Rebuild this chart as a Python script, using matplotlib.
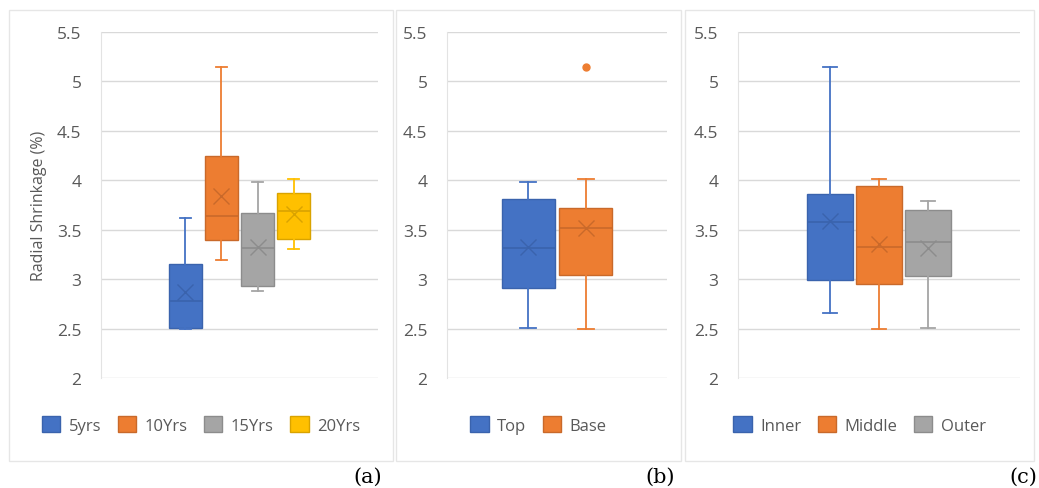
import matplotlib.pyplot as plt
from matplotlib.patches import Rectangle

plt.rcParams['font.family'] = ['Open Sans', 'DejaVu Sans']

# ---- data ----
# panel (a): age groups
age_labels = ['5yrs', '10Yrs', '15Yrs', '20Yrs']
age_whislo = [2.50, 3.19, 2.88, 3.30]
age_q1 = [2.51, 3.40, 2.93, 3.41]
age_med = [2.78, 3.64, 3.31, 3.69]
age_q3 = [3.15, 4.25, 3.67, 3.87]
age_whishi = [3.62, 5.15, 3.98, 4.01]
age_mean = [2.87, 3.84, 3.33, 3.66]
age_fliers = [[], [], [], []]

# panel (b): height position
height_labels = ['Top', 'Base']
height_whislo = [2.51, 2.50]
height_q1 = [2.91, 3.04]
height_med = [3.31, 3.52]
height_q3 = [3.81, 3.72]
height_whishi = [3.98, 4.01]
height_mean = [3.33, 3.52]
height_fliers = [[], [5.15]]

# panel (c): radial position
radial_labels = ['Inner', 'Middle', 'Outer']
radial_whislo = [2.66, 2.50, 2.51]
radial_q1 = [2.99, 2.95, 3.03]
radial_med = [3.58, 3.33, 3.38]
radial_q3 = [3.86, 3.94, 3.70]
radial_whishi = [5.15, 4.01, 3.79]
radial_mean = [3.59, 3.36, 3.32]
radial_fliers = [[], [], []]

colors = ['#4472C4', '#ED7D31', '#A5A5A5', '#FFC000']
dark = ['#3A63AD', '#C9692A', '#8C8C8C', '#D9A300']
grid_c = '#D9D9D9'
text_c = '#595959'

W, H = 1039, 489
fig = plt.figure(figsize=(W / 100, H / 100), dpi=100)

# chart-area frames (pixel extents of each panel)
frames = [(9, 393), (396, 681), (685, 1034)]
for x0, x1 in frames:
    fig.add_artist(Rectangle((x0 / W, 1 - 462 / H), (x1 - x0) / W, (462 - 11) / H,
                             transform=fig.transFigure, fill=False, edgecolor='#E6E6E6', lw=1))

panels = [
    ([101, 378], age_labels, age_whislo, age_q1, age_med, age_q3, age_whishi, age_mean, age_fliers, '(a)', 368),
    ([447, 667], height_labels, height_whislo, height_q1, height_med, height_q3, height_whishi, height_mean, height_fliers, '(b)', 660),
    ([738, 1020], radial_labels, radial_whislo, radial_q1, radial_med, radial_q3, radial_whishi, radial_mean, radial_fliers, '(c)', 1023),
]

for i, (xr, labels, wlo, q1, med, q3, whi, mean, fl, tag, tagx) in enumerate(panels):
    ax = fig.add_axes([xr[0] / W, 1 - 379 / H, (xr[1] - xr[0]) / W, 346 / H])
    n = len(labels)
    slot = 0.52 / n
    handles = []
    for j in range(n):
        pos = 0.5 - 0.26 + slot * (j + 0.5)
        stats = [dict(whislo=wlo[j], q1=q1[j], med=med[j], q3=q3[j], whishi=whi[j],
                      mean=mean[j], fliers=fl[j])]
        ax.bxp(stats, positions=[pos], widths=slot * 0.94, patch_artist=True,
               showmeans=True, manage_ticks=False,
               boxprops=dict(facecolor=colors[j], edgecolor=dark[j], lw=1),
               medianprops=dict(color=dark[j], lw=1.2),
               whiskerprops=dict(color=colors[j], lw=1.3),
               capprops=dict(color=colors[j], lw=1.3),
               capwidths=slot * 0.28,
               meanprops=dict(marker='x', markeredgecolor=dark[j], markersize=11, markeredgewidth=1),
               flierprops=dict(marker='o', markerfacecolor=colors[j], markeredgecolor=colors[j], markersize=5))
        handles.append(Rectangle((0, 0), 1, 1, facecolor=colors[j], edgecolor=dark[j]))

    ax.set_xlim(0, 1)
    ax.set_ylim(2, 5.5)
    ax.set_yticks([2, 2.5, 3, 3.5, 4, 4.5, 5, 5.5])
    ax.set_yticklabels(['2', '2.5', '3', '3.5', '4', '4.5', '5', '5.5'])
    ax.set_xticks([])
    ax.grid(axis='y', color=grid_c, lw=1)
    ax.set_axisbelow(True)
    for s in ['top', 'right', 'bottom']:
        ax.spines[s].set_visible(False)
    ax.spines['left'].set_color('#E3E3E3')
    ax.tick_params(axis='y', length=0, labelsize=12.5, labelcolor=text_c, pad=14)
    if i == 0:
        ax.set_ylabel('Radial Shrinkage (%)', fontsize=11.5, color=text_c, labelpad=7)

    fx0, fx1 = frames[i]
    fig.legend(handles, labels, loc='center', bbox_to_anchor=((fx0 + fx1) / 2 / W, 1 - 426 / H),
               bbox_transform=fig.transFigure, ncol=n, frameon=False, fontsize=12,
               labelcolor=text_c, handlelength=1.1, handleheight=1.1,
               handletextpad=0.5, columnspacing=1.0)

    fig.text(tagx / W, 1 - 477 / H, tag, ha='center', va='center',
             fontsize=15, family='DejaVu Serif')

fig.savefig('out.png', dpi=100)
